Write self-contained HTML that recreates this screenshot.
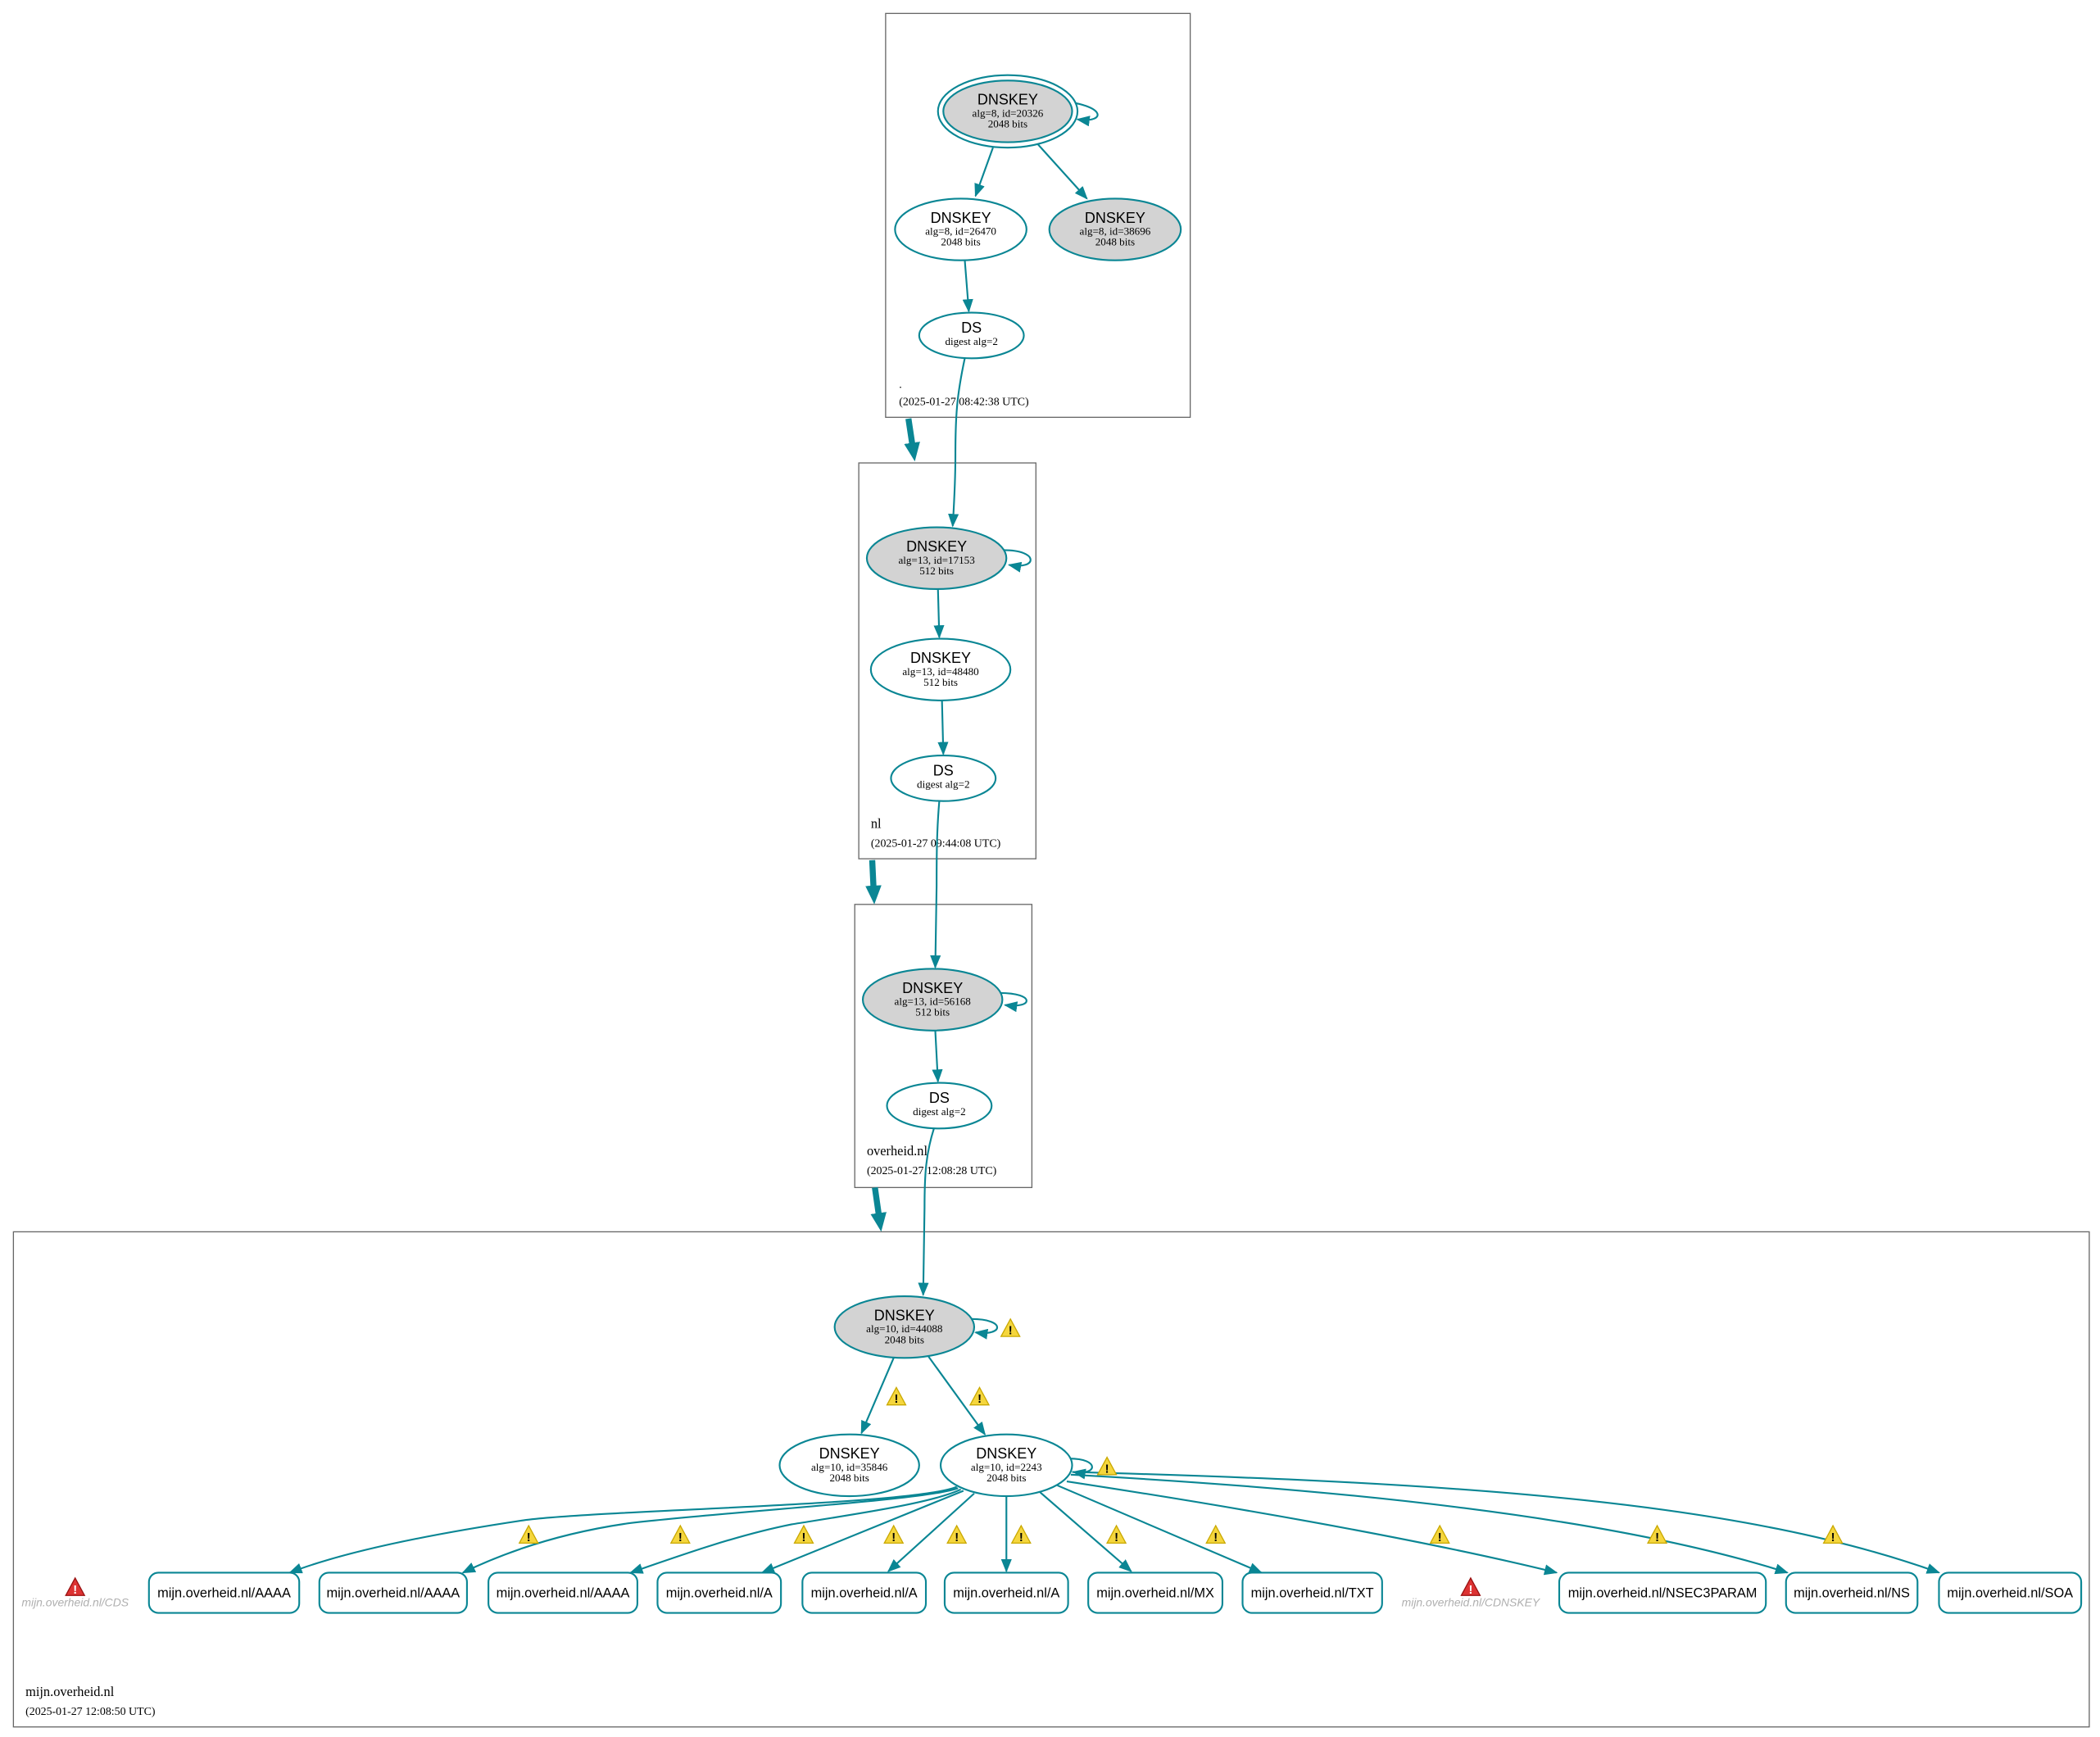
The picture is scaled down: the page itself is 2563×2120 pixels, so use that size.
<!DOCTYPE html>
<html><head><meta charset="utf-8"><style>html,body{margin:0;padding:0;background:#fff}svg{display:block}</style></head><body>
<svg width="2563" height="2120" viewBox="0 0 1565 1294.5" xmlns="http://www.w3.org/2000/svg">
<defs>
<marker id="a" markerWidth="10" markerHeight="8" refX="9" refY="4" orient="auto" markerUnits="userSpaceOnUse"><path d="M0,0 L10,4 L0,8 z" fill="#0a8694"/></marker>
<marker id="b" markerWidth="14" markerHeight="12" refX="2" refY="6" orient="auto" markerUnits="userSpaceOnUse"><path d="M0,0 L14,6 L0,12 z" fill="#0a8694"/></marker>
<g id="w"><polygon points="0,-7 7,6 -7,6" fill="#f5d63d" stroke="#c9a800" stroke-width="0.8"/><text x="0" y="4.5" font-family="Liberation Sans,sans-serif" font-size="9" font-weight="bold" text-anchor="middle">!</text></g>
<g id="r"><polygon points="0,-7 7,6 -7,6" fill="#d33" stroke="#911" stroke-width="0.8"/><text x="0" y="4.5" font-family="Liberation Sans,sans-serif" font-size="9" font-weight="bold" text-anchor="middle" fill="#fff">!</text></g>
</defs>
<g fill="none" stroke="#666" stroke-width="0.8">
<rect x="660" y="10" width="227" height="301"/>
<rect x="640" y="345" width="132" height="295"/>
<rect x="637" y="674" width="132" height="211"/>
<rect x="10" y="918" width="1547" height="369"/>
</g>
<g font-family="Liberation Serif,serif" font-size="8.5" fill="#000">
<text x="670" y="289">.</text><text x="670" y="302">(2025-01-27 08:42:38 UTC)</text>
<text x="649" y="617" font-size="10">nl</text><text x="649" y="631">(2025-01-27 09:44:08 UTC)</text>
<text x="646" y="861" font-size="10">overheid.nl</text><text x="646" y="875">(2025-01-27 12:08:28 UTC)</text>
<text x="19" y="1264" font-size="10">mijn.overheid.nl</text><text x="19" y="1278">(2025-01-27 12:08:50 UTC)</text>
</g>
<g stroke="#0a8694" stroke-width="4.5" fill="none">
<path d="M677,312 L680,332" marker-end="url(#b)"/>
<path d="M650,641 L651,662" marker-end="url(#b)"/>
<path d="M652,885 L655,906" marker-end="url(#b)"/>
</g>
<g stroke="#0a8694" stroke-width="1.3" fill="none" marker-end="url(#a)">
<path d="M740,110 L727,146"/>
<path d="M773,107 L810,148"/>
<path d="M719,194 L722,232"/>
<path d="M719,267 C713,295 712,310 712,340 C712,360 711,375 710,392"/>
<path d="M699,439 L700,475"/>
<path d="M702,522 L703,562"/>
<path d="M700,597 C698,620 698,640 698,660 L697,721"/>
<path d="M697,768 L699,806"/>
<path d="M696,841 C690,860 689,875 689,900 L688,965"/>
<path d="M666,1012 L642,1068"/>
<path d="M692,1011 L734,1069"/>
<path d="M713,1108 C680,1122 450,1125 390,1133 C330,1142 260,1155 216,1172"/>
<path d="M714,1109 C690,1118 560,1125 470,1135 C420,1142 380,1155 345,1172"/>
<path d="M716,1110 C695,1120 640,1128 590,1136 C550,1144 510,1158 470,1172"/>
<path d="M718,1111 L568,1172"/>
<path d="M726,1113 L662,1171"/>
<path d="M750,1115 L750,1171"/>
<path d="M775,1112 L843,1171"/>
<path d="M788,1107 L940,1172"/>
<path d="M795,1104 C900,1120 1050,1145 1160,1172"/>
<path d="M798,1099 C1000,1110 1200,1130 1332,1172"/>
<path d="M799,1097 C1100,1105 1300,1120 1445,1172"/>
<path d="M788,75 C825,78 825,92 803,89"/>
<path d="M748,410 C775,410 773,425 752,421"/>
<path d="M745,740 C772,740 770,752 749,749"/>
<path d="M724,983 C750,983 748,996 727,993"/>
<path d="M797,1087 C820,1087 818,1100 800,1097"/>
</g>
<g stroke="#0a8694" stroke-width="1.3">
<ellipse cx="751" cy="83" rx="52" ry="27" fill="#fff"/>
<ellipse cx="751" cy="83" rx="48" ry="23" fill="#d3d3d3"/>
<ellipse cx="716" cy="171" rx="49" ry="23" fill="#fff"/>
<ellipse cx="831" cy="171" rx="49" ry="23" fill="#d3d3d3"/>
<ellipse cx="724" cy="250" rx="39" ry="17" fill="#fff"/>
<ellipse cx="698" cy="416" rx="52" ry="23" fill="#d3d3d3"/>
<ellipse cx="701" cy="499" rx="52" ry="23" fill="#fff"/>
<ellipse cx="703" cy="580" rx="39" ry="17" fill="#fff"/>
<ellipse cx="695" cy="745" rx="52" ry="23" fill="#d3d3d3"/>
<ellipse cx="700" cy="824" rx="39" ry="17" fill="#fff"/>
<ellipse cx="674" cy="989" rx="52" ry="23" fill="#d3d3d3"/>
<ellipse cx="633" cy="1092" rx="52" ry="23" fill="#fff"/>
<ellipse cx="750" cy="1092" rx="49" ry="23" fill="#fff"/>
</g>
<g font-family="Liberation Sans,sans-serif" font-size="11" text-anchor="middle" fill="#000">
<text x="751" y="78">DNSKEY</text><text x="716" y="166">DNSKEY</text><text x="831" y="166">DNSKEY</text><text x="724" y="248">DS</text>
<text x="698" y="411">DNSKEY</text><text x="701" y="494">DNSKEY</text><text x="703" y="578">DS</text>
<text x="695" y="740">DNSKEY</text><text x="700" y="822">DS</text>
<text x="674" y="984">DNSKEY</text><text x="633" y="1087">DNSKEY</text><text x="750" y="1087">DNSKEY</text>
</g>
<g font-family="Liberation Serif,serif" font-size="8" text-anchor="middle" fill="#000">
<text x="751" y="87">alg=8, id=20326</text><text x="751" y="95">2048 bits</text>
<text x="716" y="175">alg=8, id=26470</text><text x="716" y="183">2048 bits</text>
<text x="831" y="175">alg=8, id=38696</text><text x="831" y="183">2048 bits</text>
<text x="724" y="257">digest alg=2</text>
<text x="698" y="420">alg=13, id=17153</text><text x="698" y="428">512 bits</text>
<text x="701" y="503">alg=13, id=48480</text><text x="701" y="511">512 bits</text>
<text x="703" y="587">digest alg=2</text>
<text x="695" y="749">alg=13, id=56168</text><text x="695" y="757">512 bits</text>
<text x="700" y="831">digest alg=2</text>
<text x="674" y="993">alg=10, id=44088</text><text x="674" y="1001">2048 bits</text>
<text x="633" y="1096">alg=10, id=35846</text><text x="633" y="1104">2048 bits</text>
<text x="750" y="1096">alg=10, id=2243</text><text x="750" y="1104">2048 bits</text>
</g>
<g stroke="#0a8694" stroke-width="1.3" fill="#fff">
<rect x="111" y="1172" width="112" height="30" rx="7"/>
<rect x="238" y="1172" width="110" height="30" rx="7"/>
<rect x="364" y="1172" width="111" height="30" rx="7"/>
<rect x="490" y="1172" width="92" height="30" rx="7"/>
<rect x="598" y="1172" width="92" height="30" rx="7"/>
<rect x="704" y="1172" width="92" height="30" rx="7"/>
<rect x="811" y="1172" width="100" height="30" rx="7"/>
<rect x="926" y="1172" width="104" height="30" rx="7"/>
<rect x="1162" y="1172" width="154" height="30" rx="7"/>
<rect x="1331" y="1172" width="98" height="30" rx="7"/>
<rect x="1445" y="1172" width="106" height="30" rx="7"/>
</g>
<g font-family="Liberation Sans,sans-serif" font-size="10" text-anchor="middle" fill="#000">
<text x="167" y="1190.5">mijn.overheid.nl/AAAA</text>
<text x="293" y="1190.5">mijn.overheid.nl/AAAA</text>
<text x="419.5" y="1190.5">mijn.overheid.nl/AAAA</text>
<text x="536" y="1190.5">mijn.overheid.nl/A</text>
<text x="644" y="1190.5">mijn.overheid.nl/A</text>
<text x="750" y="1190.5">mijn.overheid.nl/A</text>
<text x="861" y="1190.5">mijn.overheid.nl/MX</text>
<text x="978" y="1190.5">mijn.overheid.nl/TXT</text>
<text x="1239" y="1190.5">mijn.overheid.nl/NSEC3PARAM</text>
<text x="1380" y="1190.5">mijn.overheid.nl/NS</text>
<text x="1498" y="1190.5">mijn.overheid.nl/SOA</text>
</g>
<g font-family="Liberation Sans,sans-serif" font-size="8.5" font-style="italic" text-anchor="middle" fill="#b0b0b0">
<text x="56" y="1197">mijn.overheid.nl/CDS</text>
<text x="1096" y="1197">mijn.overheid.nl/CDNSKEY</text>
</g>
<use href="#r" x="56" y="1183"/><use href="#r" x="1096" y="1183"/>
<use href="#w" x="753" y="990"/><use href="#w" x="825" y="1093"/>
<use href="#w" x="668" y="1041"/><use href="#w" x="730" y="1041"/>
<use href="#w" x="394" y="1144"/><use href="#w" x="507" y="1144"/><use href="#w" x="599" y="1144"/>
<use href="#w" x="666" y="1144"/><use href="#w" x="713" y="1144"/><use href="#w" x="761" y="1144"/>
<use href="#w" x="832" y="1144"/><use href="#w" x="906" y="1144"/><use href="#w" x="1073" y="1144"/>
<use href="#w" x="1235" y="1144"/><use href="#w" x="1366" y="1144"/>
</svg>
</body></html>
